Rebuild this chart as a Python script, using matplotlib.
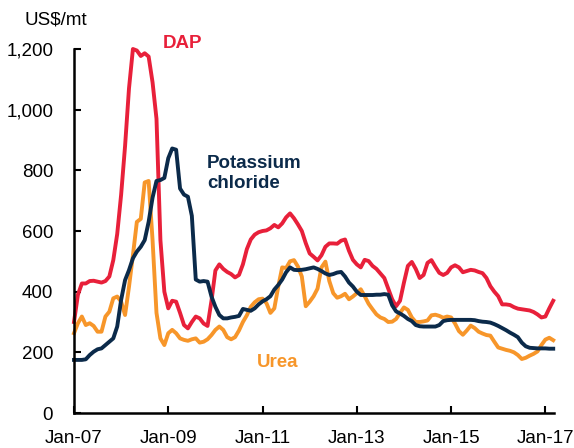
import numpy as np
import matplotlib
matplotlib.use("Agg")
import matplotlib.pyplot as plt

plt.rcParams['font.family'] = ['Liberation Sans', 'DejaVu Sans']

# Monthly prices, Jan-2007 .. Mar-2017 (US$/mt)
dap = [300, 390, 427, 427, 435, 436, 433, 430, 435, 450, 504, 590, 720, 880, 1070, 1200,
       1195, 1177, 1186, 1175, 1090, 970, 570, 400, 345, 370, 367, 330, 290, 279, 300, 318,
       312, 295, 287, 370, 470, 490, 475, 465,
       458, 447, 455, 490, 540, 572, 588, 596, 600, 602, 609, 620, 612, 625, 645, 658,
       642, 622, 600, 560, 526, 515, 503, 520, 548, 559, 559, 558, 568, 572, 535, 505,
       490, 480, 505, 501, 485, 475, 460, 445, 410,
       375, 352, 370, 430, 485, 498, 475, 445, 455, 495, 504, 482, 462, 455, 462, 480,
       487, 480, 464, 468, 472, 470, 465, 461, 445, 418, 400, 385, 358, 358, 356, 349,
       344, 342, 340, 338, 333, 325, 315, 318, 345, 370]

urea = [263, 296, 318, 290, 296, 287, 268, 268, 318, 334, 378, 384, 367, 323, 416, 520,
        630, 640, 760, 765, 570, 330, 246, 224, 263, 274, 263, 246, 241, 238, 243, 246,
        232, 235, 243, 257, 274, 285, 274, 250,
        243, 250, 272, 300, 322, 350, 365, 375, 377, 362, 330, 345, 417, 480, 478, 500,
        504, 483, 450, 352, 367, 385, 410, 480, 499, 435, 395, 380, 385, 393, 375, 384,
        395, 408, 385, 360, 342, 325, 315, 310, 300,
        301, 310, 330, 348, 340, 315, 300, 300, 302, 305, 322, 324, 320, 314, 318, 315,
        295, 270, 258, 272, 288, 280, 268, 262, 257, 255, 235, 216, 212, 208, 205, 200,
        191, 178, 182, 189, 195, 203, 224, 242, 248, 240]

potash = [175, 175, 175, 177, 191, 202, 210, 213, 224, 235, 246, 285, 373, 438, 471, 510,
          532, 548, 570, 630, 710, 765, 768, 775, 840, 872, 868, 740, 720, 713, 650, 440,
          433, 435, 433, 384, 350, 323, 312, 312,
          315, 317, 320, 343, 340, 337, 345, 358, 368, 375, 385, 407, 422, 440, 464, 480,
          472, 471, 472, 474, 477, 480, 475, 468, 460, 455, 458, 463, 465, 450, 430, 417,
          400, 389, 389, 389, 389, 390, 390, 392, 390,
          355, 335, 328, 320, 310, 303, 290, 286, 285, 285, 285, 285, 290, 303, 306, 307,
          307, 307, 307, 307, 307, 306, 303, 301, 300, 298, 293, 287, 280, 273, 265, 258,
          250, 232, 220, 215, 214, 213, 213, 213, 212, 212]

tick_labels = ["Jan-07", "Jan-09", "Jan-11", "Jan-13", "Jan-15", "Jan-17"]
tick_months = [0, 24, 48, 72, 96, 120]

red = "#E8203A"
navy = "#0B2A4A"
orange = "#F7962A"

fig = plt.figure(figsize=(5.74, 4.48), dpi=100)
ax = fig.add_axes([74 / 574, 1 - 413 / 448, (554 - 74) / 574, (413 - 49) / 448])

months = np.arange(len(dap))
ax.plot(months, dap, color=red, lw=2.8, solid_joinstyle="round", clip_on=False)
ax.plot(months, urea, color=orange, lw=2.8, solid_joinstyle="round", clip_on=False)
ax.plot(months, potash, color=navy, lw=2.8, solid_joinstyle="round", clip_on=False)

ax.set_xlim(0, 122.2)
ax.set_ylim(0, 1200)
ax.set_xticks(tick_months)
ax.set_xticklabels(tick_labels)
ax.set_yticks(range(0, 1201, 200))
ax.set_yticklabels([f"{v:,}" for v in range(0, 1201, 200)])

for s in ["top", "right"]:
    ax.spines[s].set_visible(False)
for s in ["left", "bottom"]:
    ax.spines[s].set_linewidth(1.8)
    ax.spines[s].set_color("black")
ax.tick_params(axis="both", direction="in", length=5, width=1.5, labelsize=13.5, colors="black")
ax.tick_params(axis="y", pad=15)
ax.tick_params(axis="x", pad=12)

ax.text(22.6, 1217, "DAP", color=red, fontsize=13.5, fontweight="bold", va="center", ha="left")
ax.text(33.8, 790, "Potassium\nchloride", color=navy, fontsize=13.5, fontweight="bold",
        va="center", ha="left", linespacing=1.2)
ax.text(46.6, 168, "Urea", color=orange, fontsize=13.5, fontweight="bold", va="center", ha="left")

fig.text(25 / 574, 1 - 20 / 448, "US$/mt", fontsize=13.5, va="center", ha="left")

fig.savefig("out.png", dpi=100)
